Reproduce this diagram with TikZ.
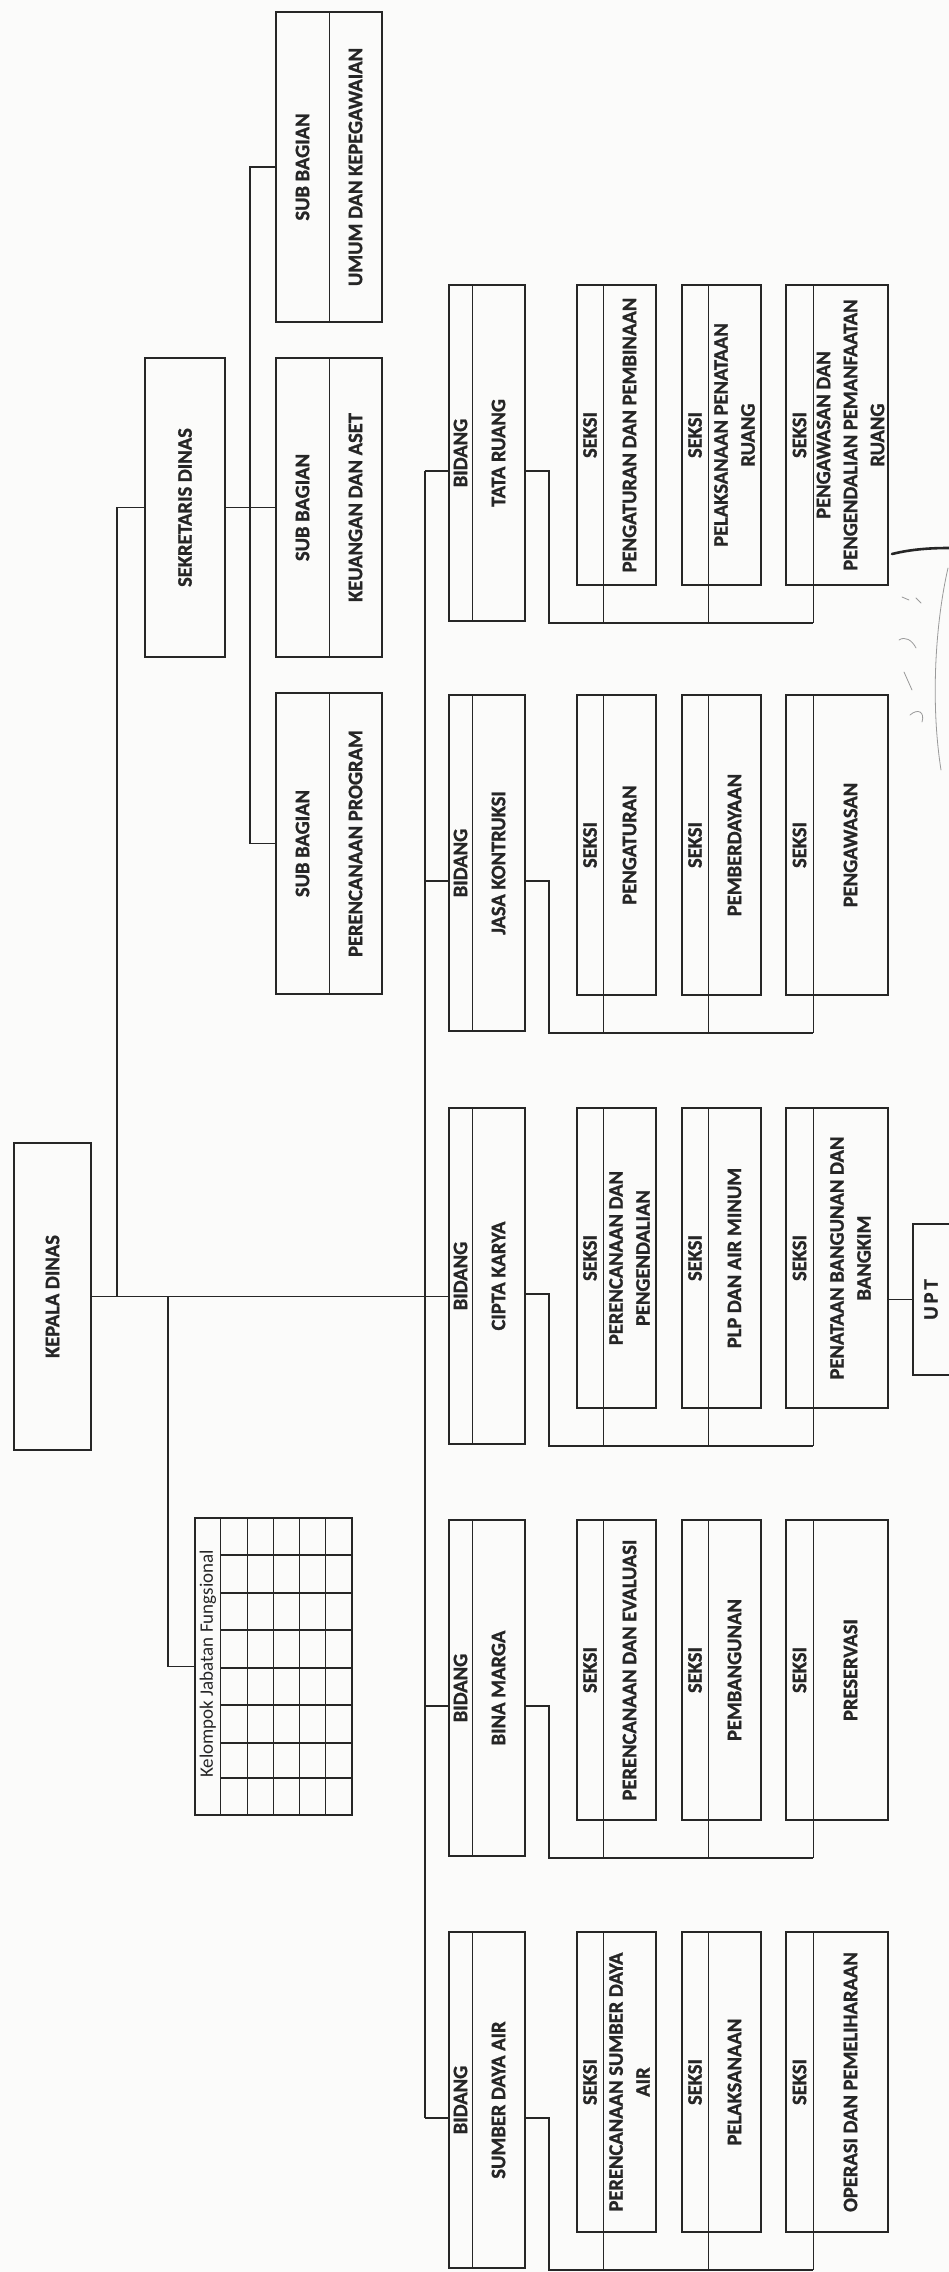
\documentclass[tikz,border=0pt]{standalone}
\usepackage{fontspec}
\setmainfont{Carlito}[BoldFeatures={FakeBold=1.2}]
\usetikzlibrary{calc}

\definecolor{ink}{HTML}{262626}
\definecolor{paper}{HTML}{FBFBFA}
\definecolor{pencil}{HTML}{9A9A9A}

\tikzset{
  orgbox/.style={draw=ink, line width=2.2pt, inner sep=0pt, outer sep=0pt, rectangle},
  wire/.style={draw=ink, line width=1.2pt},
  divline/.style={draw=ink, line width=0.9pt},
  gridline/.style={draw=ink, line width=1.4pt},
  lbl/.style={rotate=90, text=ink, align=center, inner sep=0pt,
              font=\bfseries\fontsize{20.5}{27}\selectfont},
  kjftext/.style={rotate=90, text=ink, inner sep=0pt, font=\fontsize{19}{22}\selectfont},
  sig/.style={draw=pencil, line width=0.8pt, line cap=round},
}

% framed box from (#2,#3) to (#4,#5), named #1
\newcommand\orgframe[5]{%
  \node[orgbox, minimum width={((#4)-(#2))*1pt}, minimum height={((#5)-(#3))*1pt}]
    (#1) at ({((#2)+(#4))/2},{((#3)+(#5))/2}) {};}

% one Bidang with its three Seksi; #1 name, #2 top edge, #3 bidang title, #4-#6 seksi titles
\newcommand\bidanggroup[6]{%
  \orgframe{#1}{449}{#2}{525}{#2+336}
  \draw[divline] (472,#2) -- (472,{#2+336});
  \node[lbl] (#1-h) at (460.5,{#2+168}) {BIDANG};
  \node[lbl] (#1-n) at (498.5,{#2+168}) {#3};
  \orgframe{#1-s1}{577}{#2}{656}{#2+300}
  \orgframe{#1-s2}{682}{#2}{761}{#2+300}
  \orgframe{#1-s3}{786}{#2}{888}{#2+300}
  \node[lbl] (#1-s1h) at (590,{#2+150}) {SEKSI};
  \node[lbl] (#1-s1n) at (629.5,{#2+150}) {#4};
  \node[lbl] (#1-s2h) at (695,{#2+150}) {SEKSI};
  \node[lbl] (#1-s2n) at (734.5,{#2+150}) {#5};
  \node[lbl] (#1-s3h) at (799.5,{#2+150}) {SEKSI};
  \node[lbl] (#1-s3n) at (850.5,{#2+150}) {#6};
  \coordinate (#1-in) at ($(#1.west)+(0,18)$);
  \coordinate (#1-out) at ($(#1.east)+(0,18)$);
  \coordinate (#1-bus) at (549,{#2+338});
  \coordinate (#1-end) at (813,{#2+338});
  \draw[wire] (#1-out) -| (#1-bus) -- (#1-end);
  % seksi dividers run on down to the bus line
  \draw[divline] (603,#2) -- (603,{#2+338});
  \draw[divline] (708,#2) -- (708,{#2+338});
  \draw[divline] (813,#2) -- (813,{#2+338});
}

\begin{document}
\begin{tikzpicture}[x=1pt,y=-1pt]
\useasboundingbox (0,0) rectangle (949,2272);
\fill[paper] (0,0) rectangle (949,2272);

% Kepala Dinas
\orgframe{kd}{14}{1143}{91}{1450}
\node[lbl] (kd-t) at (52.5,1296.5) {KEPALA DINAS};

% Sekretaris Dinas
\orgframe{sek}{145}{358}{225}{657}
\node[lbl] (sek-t) at (185,507.5) {SEKRETARIS DINAS};

% Sub Bagian
\orgframe{sb1}{276}{12}{382}{322}
\orgframe{sb2}{276}{358}{382}{657}
\orgframe{sb3}{276}{693}{382}{994}
\draw[divline] (329,12) -- (329,322);
\draw[divline] (329,358) -- (329,657);
\draw[divline] (329,693) -- (329,994);
\node[lbl] (sb1-h) at (302.5,167) {SUB BAGIAN};
\node[lbl] (sb1-n) at (355.5,167) {UMUM DAN KEPEGAWAIAN};
\node[lbl] (sb2-h) at (302.5,507.5) {SUB BAGIAN};
\node[lbl] (sb2-n) at (355.5,507.5) {KEUANGAN DAN ASET};
\node[lbl] (sb3-h) at (302.5,843.5) {SUB BAGIAN};
\node[lbl] (sb3-n) at (355.5,843.5) {PERENCANAAN PROGRAM};

% Bidang and Seksi
\bidanggroup{bTR}{285}{TATA RUANG}{PENGATURAN DAN PEMBINAAN}{PELAKSANAAN PENATAAN\\RUANG}{PENGAWASAN DAN\\PENGENDALIAN PEMANFAATAN\\RUANG}
\bidanggroup{bJK}{695}{JASA KONTRUKSI}{PENGATURAN}{PEMBERDAYAAN}{PENGAWASAN}
\bidanggroup{bCK}{1108}{CIPTA KARYA}{PERENCANAAN DAN\\PENGENDALIAN}{PLP DAN AIR MINUM}{PENATAAN BANGUNAN DAN\\BANGKIM}
\bidanggroup{bBM}{1520}{BINA MARGA}{PERENCANAAN DAN EVALUASI}{PEMBANGUNAN}{PRESERVASI}
\bidanggroup{bSD}{1932}{SUMBER DAYA AIR}{PERENCANAAN SUMBER DAYA\\AIR}{PELAKSANAAN}{OPERASI DAN PEMELIHARAAN}

% Kelompok Jabatan Fungsional
\orgframe{kjf}{195}{1518}{352}{1815}
\foreach \x in {220,247,273,299,325} \draw[divline] (\x,1518) -- (\x,1815);
\foreach \y in {1555,1593,1630,1668,1705,1743,1778} \draw[gridline] (220,\y) -- (352,\y);
\node[kjftext] (kjf-t) at (208,1664) {Kelompok Jabatan Fungsional};

% UPT
\orgframe{upt}{913}{1224}{953}{1375}
\node[lbl] (upt-t) at (931,1299.5) {U\kern3pt P\kern3pt T};

% connectors
\coordinate (jS) at (117,0);
\coordinate (jB) at (250,0);
\coordinate (jT) at (425,0);
\coordinate (jK) at (168,0);
\draw[wire] (kd.east) -- (kd.east -| bCK.west);
\draw[wire] (sek.west) -| (jS |- kd.east);
\draw[wire] (sek.east) -- (sb2.west);
\draw[wire] (sb1.west) -- (jB |- sb1.west) -- (jB |- sb3.west) -- (sb3.west);
\draw[wire] (jT |- bTR-in) -- (jT |- bSD-in);
\foreach \b in {bTR,bJK,bBM,bSD} \draw[wire] (jT |- \b-in) -- (\b-in);
\draw[wire] (jK |- kd.east) |- (kjf.west);
\draw[wire] (upt.west) -- (upt.west -| bCK-s3.east);

% paraf
\draw[ink, line width=2.6pt, line cap=round] (892,554) .. controls (912,549) and (932,548) .. (949,548);
\draw[sig] (948,568) .. controls (936,620) and (930,700) .. (941,770);
\draw[sig] (902,597) -- (909,600);
\draw[sig] (916,598) -- (921,603);
\draw[sig] (899,640) .. controls (905,636) and (912,640) .. (916,648);
\draw[sig] (904,672) -- (912,690);
\draw[sig] (910,715) .. controls (918,708) and (925,712) .. (922,722);
\end{tikzpicture}
\end{document}
